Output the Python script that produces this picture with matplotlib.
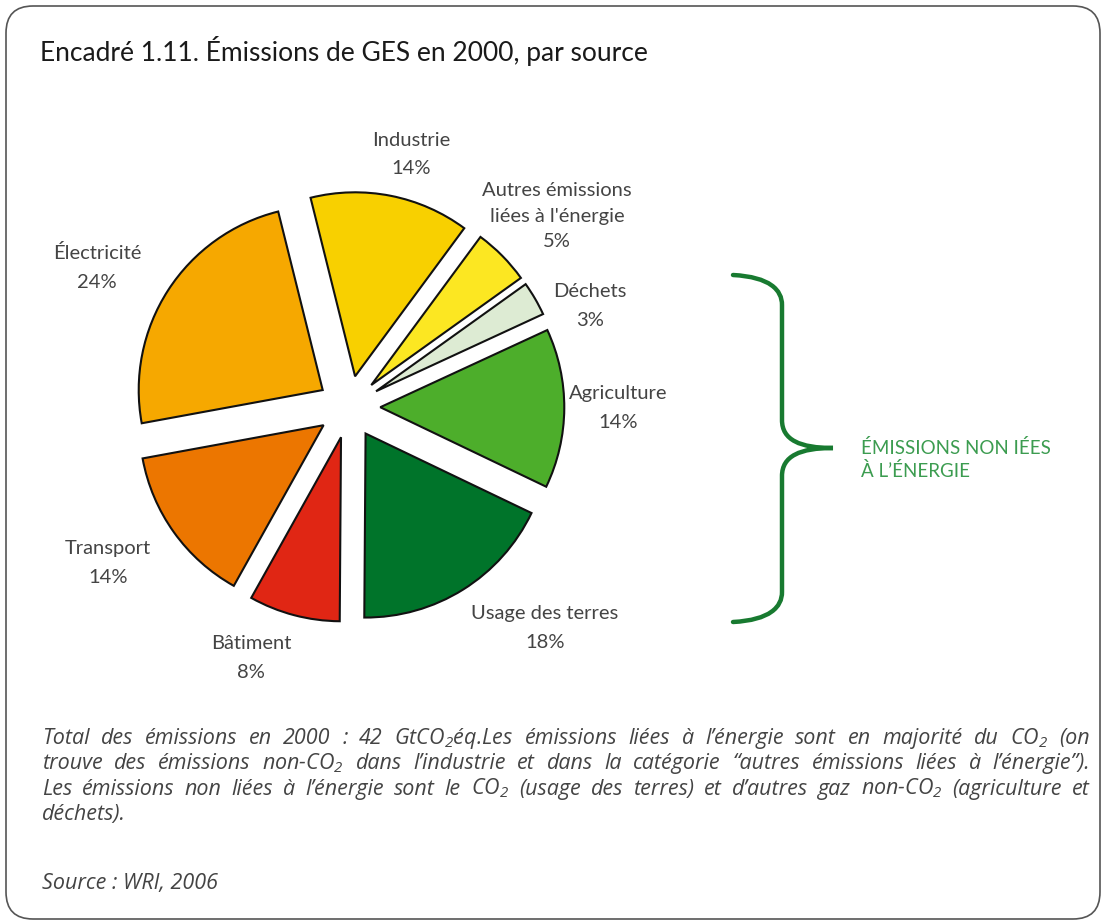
import matplotlib
matplotlib.use("Agg")
import matplotlib.pyplot as plt
from matplotlib.patches import FancyBboxPatch, PathPatch
from matplotlib.path import Path

plt.rcParams['font.family'] = ['Lato', 'DejaVu Sans']
plt.rcParams['mathtext.fontset'] = 'custom'
plt.rcParams['mathtext.rm'] = 'Open Sans:italic'
plt.rcParams['mathtext.it'] = 'Open Sans:italic'
plt.rcParams['mathtext.default'] = 'regular'

# Parts des émissions de GES en 2000 (%), dans le sens horaire depuis Industrie
sources = ['Industrie', "Autres émissions\nliées à l'énergie", 'Déchets', 'Agriculture',
           'Usage des terres', 'Bâtiment', 'Transport', 'Électricité']
parts = [14, 5, 3, 14, 18, 8, 14, 24]
couleurs = ['#F8D000', '#FCE722', '#DDEBD3', '#4DAE2B',
            '#00742A', '#E02614', '#EC7600', '#F6A800']

titre = "Encadré 1.11. Émissions de GES en 2000, par source"
accolade_texte = ["ÉMISSIONS NON IÉES", "À L’ÉNERGIE"]
note = [
    "Total des émissions en 2000 : 42 GtCO$_2$éq.Les émissions liées à l’énergie sont en majorité du CO$_2$ (on",
    "trouve des émissions non-CO$_2$ dans l’industrie et dans la catégorie “autres émissions liées à l’énergie”).",
    "Les émissions non liées à l’énergie sont le CO$_2$ (usage des terres) et d’autres gaz non-CO$_2$ (agriculture et",
    "déchets).",
]
source = "Source : WRI, 2006"

# position des étiquettes (centre x, y de la première ligne, interligne) en pixels
pos_etiquettes = [(411, 140, 28), (557, 191, 25), (590, 291, 29), (618, 393, 29),
                  (545, 613, 29), (251, 643, 29), (108, 548, 29), (97, 253, 29)]

W, H = 1102, 921
fig = plt.figure(figsize=(W / 100, H / 100), dpi=100)
ax = fig.add_axes([0, 0, 1, 1])
ax.set_xlim(0, W)
ax.set_ylim(H, 0)
ax.axis('off')

# cadre arrondi
ax.add_patch(FancyBboxPatch((6, 6), 1094, 913, boxstyle="round,pad=0,rounding_size=27",
                            fc='white', ec='#555555', lw=1.2))

ax.text(40, 61, titre, fontsize=19, color='#1a1a1a', va='baseline', ha='left')

# camembert éclaté, centre (349, 407) px, rayon 184 px
cx, cy, r = 349, 407, 184
half = 1.25 * r
pax = fig.add_axes([(cx - half) / W, (H - cy - half) / H, 2 * half / W, 2 * half / H])
pax.pie(parts, colors=couleurs, startangle=104, counterclock=False,
        explode=[0.17] * len(parts),
        wedgeprops=dict(edgecolor='#111111', linewidth=1.5))
pax.set_xlim(-1.25, 1.25)
pax.set_ylim(-1.25, 1.25)
pax.axis('off')

for nom, val, (x, y0, dy) in zip(sources, parts, pos_etiquettes):
    lignes = nom.split('\n') + [f"{val}%"]
    for i, l in enumerate(lignes):
        ax.text(x, y0 + i * dy, l, ha='center', va='center', fontsize=14.5,
                color='#444444')

# accolade verte
verts = [(733, 275), (770, 277), (782, 290), (782, 305),
         (782, 420),
         (782, 440), (800, 448), (833, 448),
         (800, 448), (782, 456), (782, 476),
         (782, 592),
         (782, 607), (770, 620), (733, 622)]
codes = [Path.MOVETO, Path.CURVE4, Path.CURVE4, Path.CURVE4,
         Path.LINETO,
         Path.CURVE4, Path.CURVE4, Path.CURVE4,
         Path.CURVE4, Path.CURVE4, Path.CURVE4,
         Path.LINETO,
         Path.CURVE4, Path.CURVE4, Path.CURVE4]
ax.add_patch(PathPatch(Path(verts, codes), fc='none', ec='#187A30', lw=3.2, capstyle='round'))
for i, l in enumerate(accolade_texte):
    ax.text(861, 448 + i * 23, l, ha='left', va='center', fontsize=13.5,
            color='#3C9C50')

# note justifiée
renderer = fig.canvas.get_renderer()
x0, x1 = 42, 1090
style = dict(fontsize=15.5, fontstyle='italic', color='#444444',
             family=['Open Sans', 'Lato', 'DejaVu Sans'],
             va='baseline', ha='left')
for k, ligne in enumerate(note):
    y = 744 + k * 25.3
    mots = ligne.split(' ')
    txts = [ax.text(x0, y, m, **style) for m in mots]
    larg = [t.get_window_extent(renderer).width for t in txts]
    if k == len(note) - 1 or len(mots) == 1:
        gap = 5
    else:
        gap = (x1 - x0 - sum(larg)) / (len(mots) - 1)
    x = x0
    for t, w in zip(txts, larg):
        t.set_x(x)
        x += w + gap

ax.text(x0, 889, source, **style)

fig.savefig('out.png', dpi=100)
